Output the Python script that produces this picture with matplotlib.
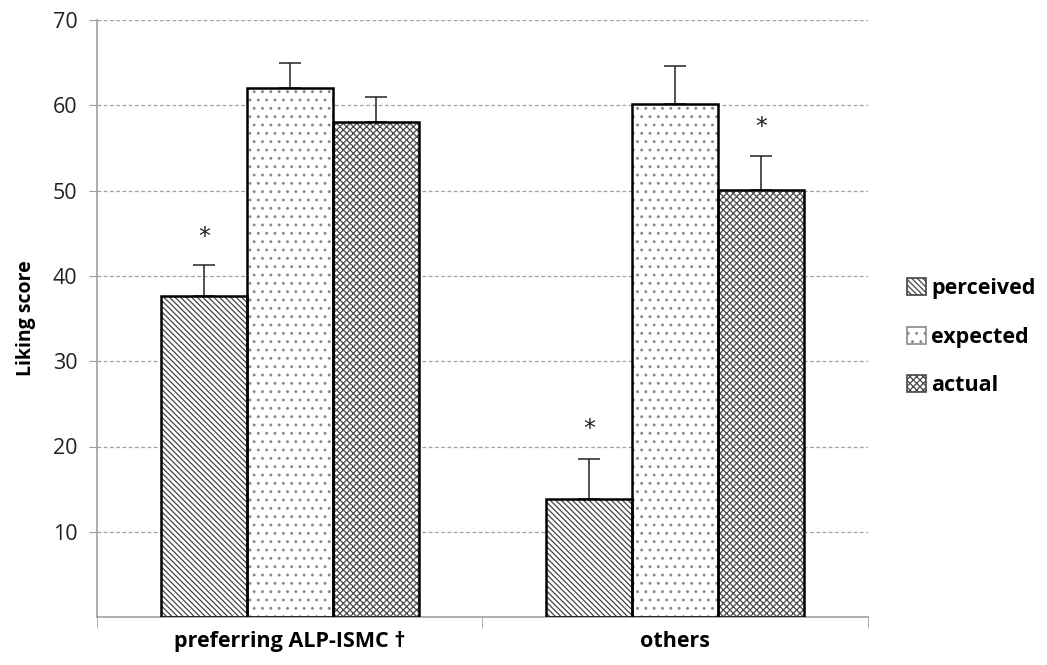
import matplotlib.pyplot as plt
import numpy as np
from matplotlib.patches import Patch

plt.rcParams['font.family'] = ['Open Sans', 'DejaVu Sans']

groups = ['preferring ALP-ISMC \u2020', 'others']
series = ['perceived', 'expected', 'actual']
means = {
    'perceived': [37.7, 13.9],
    'expected': [62.0, 60.1],
    'actual': [58.0, 50.1],
}
errors = {
    'perceived': [3.6, 4.6],
    'expected': [3.0, 4.5],
    'actual': [3.0, 4.0],
}
# asterisk markers: (group index, series name, y value)
stars = [(0, 'perceived', 44.6), (1, 'perceived', 22.0), (1, 'actual', 57.4)]

hatches = {'perceived': '\\\\\\\\\\\\', 'expected': '..', 'actual': 'xxxxx'}
hatch_colors = {'perceived': '#444444', 'expected': '#8a8a8a', 'actual': '#4a4a4a'}

fig = plt.figure(figsize=(10.47, 6.65), dpi=100)
ax = fig.add_axes([0.0926, 0.072, 0.7364, 0.898])

x = np.arange(len(groups))
width = 0.223
offsets = {'perceived': -width, 'expected': 0.0, 'actual': width}

plt.rcParams['hatch.linewidth'] = 0.9
for name in series:
    pos = x + offsets[name]
    # hatch layer
    ax.bar(pos, means[name], width, color='white', edgecolor=hatch_colors[name],
           hatch=hatches[name], linewidth=0, zorder=2)
    # outline layer
    ax.bar(pos, means[name], width, fill=False, edgecolor='black',
           linewidth=1.8, zorder=3)
    ax.errorbar(pos, means[name],
                yerr=[np.zeros(len(groups)), errors[name]],
                fmt='none', ecolor='#222222', elinewidth=1.1,
                capsize=8, capthick=1.1, zorder=1)

for gi, name, yv in stars:
    ax.text(x[gi] + offsets[name], yv, '*', ha='center', va='center',
            fontsize=17, color='#222222', family='DejaVu Sans')

ax.set_xlim(-0.5, 1.5)
ax.set_ylim(0, 70)
ax.set_yticks(np.arange(10, 80, 10))
ax.yaxis.grid(True, linestyle=(0, (3, 2)), color='#a0a0a0', linewidth=0.9)
ax.set_axisbelow(True)

ax.set_xticks(x)
ax.set_xticklabels(groups, fontsize=15.5, fontweight='bold')
ax.tick_params(axis='x', length=0, pad=10)
ax.set_xticks([-0.5, 0.5, 1.5], minor=True)
ax.tick_params(axis='x', which='minor', length=8, color='#a0a0a0', direction='out')
ax.tick_params(axis='y', labelsize=15.5, length=6, color='#a0a0a0', pad=8,
               labelcolor='#222222')

for s in ['top', 'right']:
    ax.spines[s].set_visible(False)
for s in ['left', 'bottom']:
    ax.spines[s].set_color('#a0a0a0')
    ax.spines[s].set_linewidth(1.2)

ax.set_ylabel('Liking score', fontsize=14, fontweight='bold', labelpad=12)

handles = [Patch(facecolor='white', edgecolor=hatch_colors[n], hatch=hatches[n], linewidth=1.2)
           for n in series]
fig.legend(handles, series, loc='center left', bbox_to_anchor=(0.848, 0.493),
           frameon=False, prop={'size': 15.5, 'weight': 'bold'},
           handlelength=0.85, handleheight=0.85, handletextpad=0.25, labelspacing=1.28)

fig.savefig('out.png', dpi=100)
